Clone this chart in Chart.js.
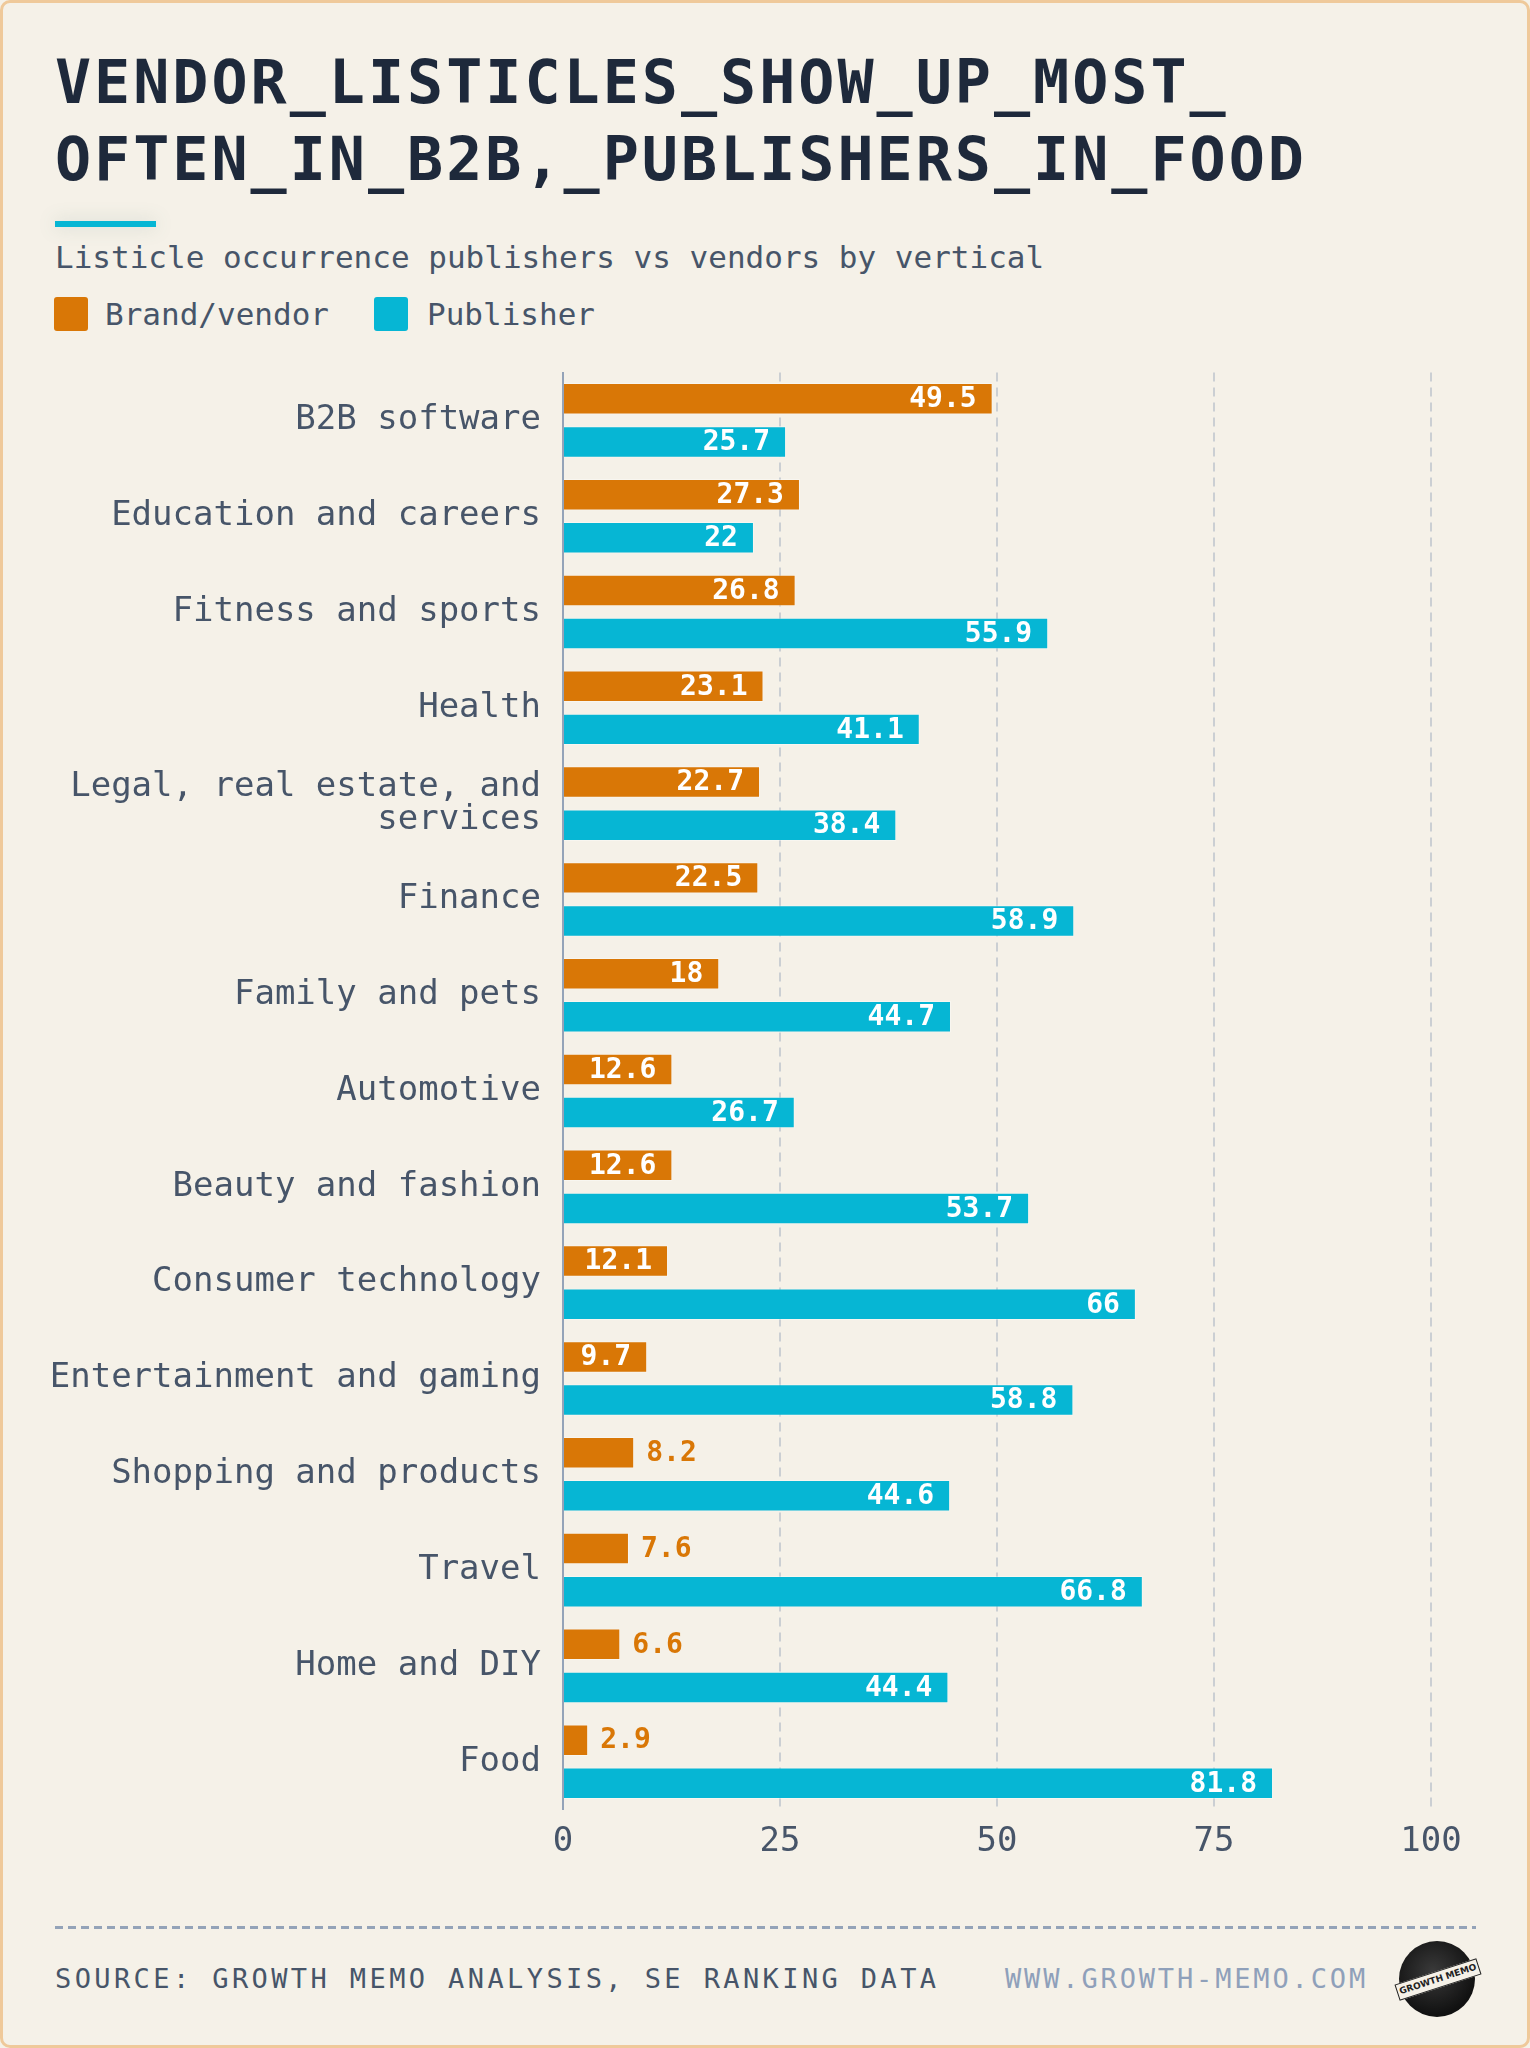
<!DOCTYPE html>
<html>
<head>
<meta charset="utf-8">
<script src="https://cdn.jsdelivr.net/npm/chart.js@4.4.1/dist/chart.umd.min.js"></script>
<style>
  html, body { margin: 0; padding: 0; background: #f5f1e8; }
  body { width: 1530px; height: 2048px; position: relative; overflow: hidden; font-family: "DejaVu Sans Mono", monospace; }
  .card { position: absolute; left: 0; top: 0; width: 1524px; height: 2042px; border: 3px solid #efc99a; border-radius: 10px; background: #f5f1e8; }
  .title { position: absolute; left: 55px; top: 44px; margin: 0; font-size: 60px; font-weight: bold; letter-spacing: 3px; line-height: 76.7px; color: #1e293b; white-space: pre; }
  .accent { position: absolute; left: 55px; top: 221px; width: 101px; height: 6px; background: #06b6d4; box-shadow: 0 0 18px rgba(90, 130, 120, 0.25); }
  .subtitle { position: absolute; left: 55px; top: 242px; font-size: 31px; line-height: 31px; color: #475569; white-space: pre; }
  .legend { position: absolute; top: 297px; left: 54px; height: 34px; }
  .legend span { position: absolute; top: 0; white-space: pre; }
  .legend .sw { width: 34px; height: 34px; border-radius: 3px; }
  .legend .lb { top: 2px; font-size: 31px; line-height: 31px; color: #475569; }
  #wrap { position: absolute; left: 0; top: 360px; width: 1480px; height: 1530px; }
  .rule { position: absolute; left: 55px; top: 1926px; width: 1421px; height: 3px;
    background: repeating-linear-gradient(90deg, #94a3b8 0 8px, transparent 8px 13px); }
  .foot { position: absolute; top: 1965px; font-size: 27px; line-height: 27px; white-space: pre; }
  .logo { position: absolute; left: 1399px; top: 1941px; width: 76px; height: 76px; border-radius: 50%;
    background: radial-gradient(circle at 45% 40%, #3a3a3a, #111 70%); }
  .logo i { position: absolute; left: -4px; top: 30px; width: 84px; height: 15px; background: #f5f1e8; border: 1px solid #222;
    transform: rotate(-18deg); font-style: normal; font-size: 9px; line-height: 15px; text-align: center; color: #222; font-weight: bold; font-family: "DejaVu Sans", sans-serif; }
</style>
</head>
<body>
<div class="card"></div>
<h1 class="title">VENDOR_LISTICLES_SHOW_UP_MOST_
OFTEN_IN_B2B,_PUBLISHERS_IN_FOOD</h1>
<div class="accent"></div>
<div class="subtitle">Listicle occurrence publishers vs vendors by vertical</div>
<div class="legend" id="legend"></div>
<div id="wrap"><canvas id="chart"></canvas></div>
<div class="rule"></div>
<div class="foot" style="left:55px;color:#475569;letter-spacing:3.4px">SOURCE: GROWTH MEMO ANALYSIS, SE RANKING DATA</div>
<div class="foot" style="left:1005px;color:#8fa0ba;letter-spacing:2.85px">WWW.GROWTH-MEMO.COM</div>
<div class="logo"><i>GROWTH MEMO</i></div>

<script>
// data
const categories = [
  "B2B software", "Education and careers", "Fitness and sports", "Health",
  ["Legal, real estate, and", "services"], "Finance", "Family and pets", "Automotive",
  "Beauty and fashion", "Consumer technology", "Entertainment and gaming",
  "Shopping and products", "Travel", "Home and DIY", "Food"
];
const seriesNames = ["Brand/vendor", "Publisher"];
const vendorValues = [49.5, 27.3, 26.8, 23.1, 22.7, 22.5, 18, 12.6, 12.6, 12.1, 9.7, 8.2, 7.6, 6.6, 2.9];
const publisherValues = [25.7, 22, 55.9, 41.1, 38.4, 58.9, 44.7, 26.7, 53.7, 66, 58.8, 44.6, 66.8, 44.4, 81.8];
const xTicks = [0, 25, 50, 75, 100];

const ORANGE = "#d97706";
const CYAN = "#06b6d4";
const SLATE = "#475569";
const MONO = '"DejaVu Sans Mono", monospace';

// html legend
const legend = document.getElementById("legend");
[[ORANGE, 0, 51], [CYAN, 320, 373]].forEach(([col, swX, lbX], i) => {
  legend.insertAdjacentHTML("beforeend",
    `<span class="sw" style="left:${swX}px;background:${col}"></span>` +
    `<span class="lb" style="left:${lbX}px">${seriesNames[i]}</span>`);
});

// value labels: white inside the bar end, or coloured just outside when the bar is short
const barLabels = {
  id: "barLabels",
  afterDatasetsDraw(chart) {
    const ctx = chart.ctx;
    ctx.save();
    ctx.font = "bold 28px " + MONO;
    ctx.textBaseline = "middle";
    chart.data.datasets.forEach((ds, di) => {
      chart.getDatasetMeta(di).data.forEach((bar, i) => {
        const txt = String(ds.data[i]);
        const w = ctx.measureText(txt).width;
        const len = bar.x - bar.base;
        if (len >= w + 24) {
          ctx.fillStyle = "#ffffff";
          ctx.textAlign = "right";
          ctx.fillText(txt, bar.x - 16, bar.y + 1);
        } else {
          ctx.fillStyle = ds.backgroundColor;
          ctx.textAlign = "left";
          ctx.fillText(txt, bar.x + 12, bar.y + 1);
        }
      });
    });
    ctx.restore();
  }
};

new Chart(document.getElementById("chart"), {
  type: "bar",
  data: {
    labels: categories,
    datasets: [
      { label: seriesNames[0], data: vendorValues, backgroundColor: ORANGE, borderColor: "rgba(255,255,255,0.35)", borderWidth: 1 },
      { label: seriesNames[1], data: publisherValues, backgroundColor: CYAN, borderColor: "rgba(255,255,255,0.35)", borderWidth: 1 }
    ]
  },
  options: {
    indexAxis: "y",
    responsive: true,
    maintainAspectRatio: false,
    animation: false,
    categoryPercentage: 0.9,
    barPercentage: 0.73,
    layout: { padding: { top: 12.5, right: 49, bottom: 0, left: 0 } },
    plugins: { legend: { display: false }, tooltip: { enabled: false } },
    scales: {
      x: {
        min: 0,
        max: 100,
        afterBuildTicks: (scale) => { scale.ticks = xTicks.map(v => ({ value: v })); },
        afterFit: (scale) => { scale.height = 80.4; },
        grid: {
          drawTicks: false,
          lineWidth: 2,
          color: (c) => (c.tick && c.tick.value === 0 ? "transparent" : "#cbcfd3")
        },
        border: { display: false, dash: [9, 6] },
        ticks: { color: SLATE, padding: 12, font: { family: MONO, size: 34 } }
      },
      y: {
        afterFit: (scale) => {
          scale.width = 563;
          scale.paddingTop = 0;
          scale.paddingBottom = 0;
        },
        grid: { display: false, drawTicks: false },
        border: { display: true, color: "#94a3b8", width: 2 },
        ticks: { color: SLATE, padding: 22, font: { family: MONO, size: 34, lineHeight: 0.98 } }
      }
    }
  },
  plugins: [barLabels]
});
</script>
</body>
</html>
